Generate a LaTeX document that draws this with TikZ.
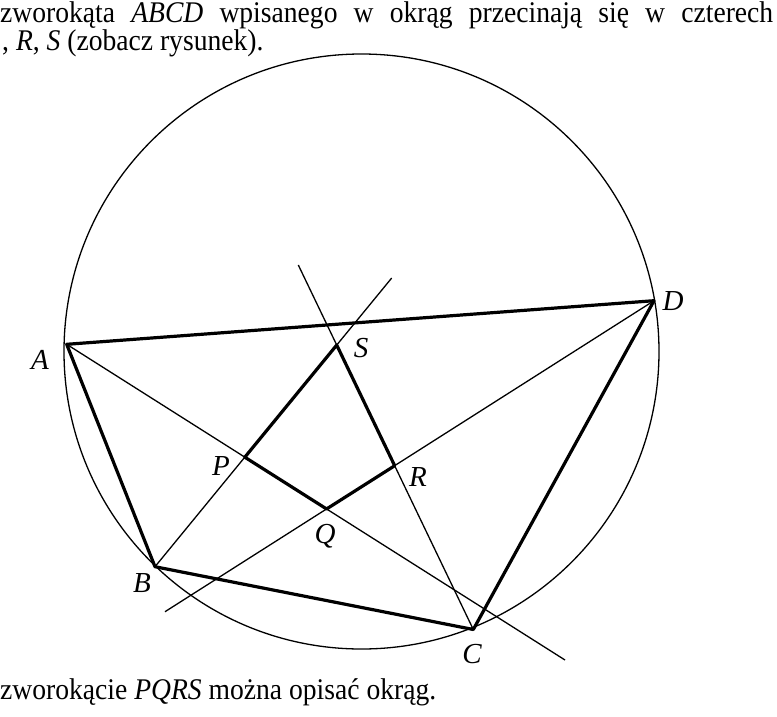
\documentclass[tikz,border=0pt]{standalone}
\usepackage{fontspec}
\setmainfont{Liberation Serif}
\newfontfamily\condfont[FakeStretch=0.92]{Liberation Serif}
\begin{document}
\begin{tikzpicture}[x=1pt,y=-1pt,
  thinln/.style={line width=1.3pt},
  thickln/.style={line width=3.2pt, line join=round},
  lbl/.style={font=\fontsize{29}{32}\selectfont\itshape, inner sep=0pt},
  txt/.style={font=\condfont\fontsize{30}{34}\selectfont, inner sep=0pt, anchor=base west}]
\useasboundingbox (0,0) rectangle (777,716);
% vertices
\coordinate (A) at (66.7,344.3);
\coordinate (B) at (155,566.7);
\coordinate (C) at (473.3,629.5);
\coordinate (D) at (654,300.7);
\coordinate (O) at (361.5,351.5);
% free ends of bisectors
\coordinate (EA) at (565,660);
\coordinate (EB) at (391.7,278);
\coordinate (EC) at (298.3,265);
\coordinate (ED) at (165,611.7);
% intersection points
\coordinate (P) at (intersection of A--EA and B--EB);
\coordinate (Q) at (intersection of A--EA and D--ED);
\coordinate (R) at (intersection of C--EC and D--ED);
\coordinate (S) at (intersection of B--EB and C--EC);
% circle
\draw[thinln] (O) circle[radius=297.5];
% bisectors
\draw[thinln] (A) -- (EA);
\draw[thinln] (B) -- (EB);
\draw[thinln] (C) -- (EC);
\draw[thinln] (D) -- (ED);
% quadrilaterals
\draw[thickln] (A) -- (B) -- (C) -- (D) -- cycle;
\draw[thickln] (P) -- (Q) -- (R) -- (S) -- cycle;
% labels
\node[lbl] (lA) at (40,360) {A};
\node[lbl] (lB) at (142,583) {B};
\node[lbl] (lC) at (472,654) {C};
\node[lbl] (lD) at (673,301) {D};
\node[lbl] (lS) at (361,348) {S};
\node[lbl] (lP) at (221,466) {P};
\node[lbl] (lR) at (418,477) {R};
\node[lbl] (lQ) at (325,536) {Q};
% text
\node[txt] (t1) at (0,22) {\makebox[773pt][s]{zworokąta \textit{ABCD} wpisanego w okrąg przecinają się w czterech}};
\node[txt] (t2) at (2,50.5) {, \textit{R}, \textit{S} (zobacz rysunek).};
\node[txt] (t3) at (0,699) {zworokącie \textit{PQRS} można opisać okrąg.};
\end{tikzpicture}
\end{document}
